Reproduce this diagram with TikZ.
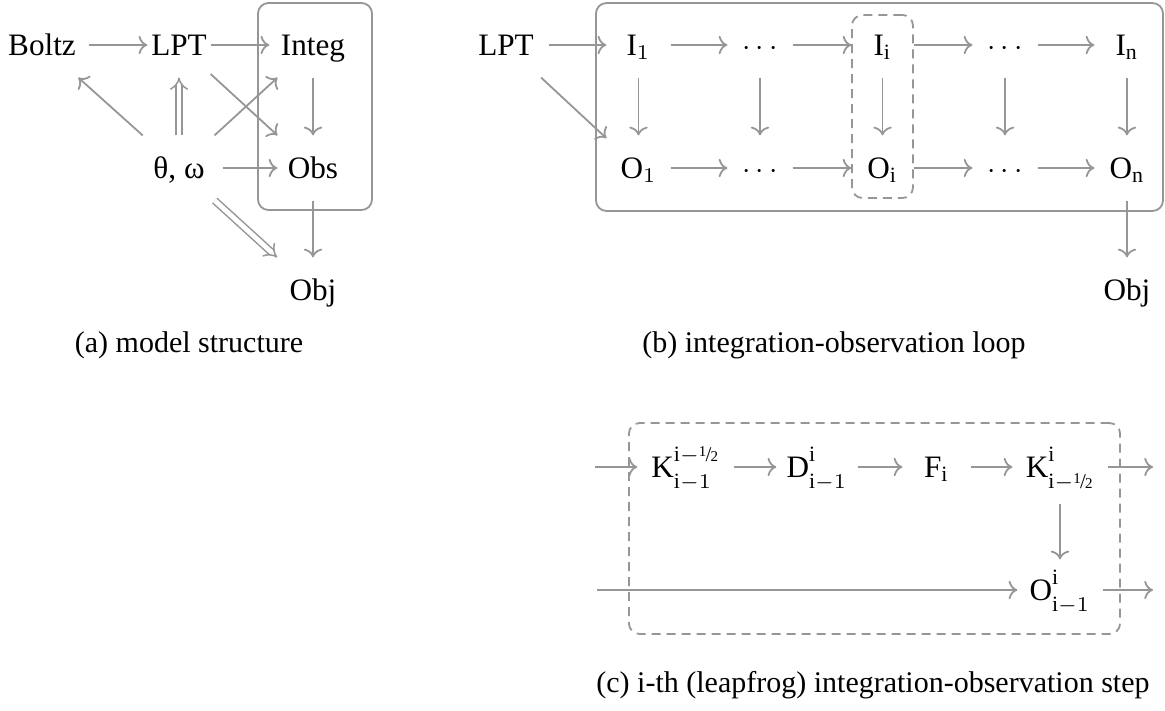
\documentclass[tikz,border=0pt]{standalone}
\usepackage{fontspec}
\setmainfont{Liberation Serif}
\usetikzlibrary{arrows.meta}
\definecolor{lg}{RGB}{150,150,150}
\newcommand{\hlf}{\hbox{\fontsize{5}{5}\selectfont\raisebox{0.75ex}{1}\kern-0.05em{\fontsize{7}{7}\selectfont/}\kern-0.05em 2}}
\newcommand{\supsub}[2]{^{\raisebox{1.6pt}{$\scriptstyle #1$}}_{\raisebox{-1.4pt}{$\scriptstyle #2$}}}
\begin{document}
\begin{tikzpicture}[x=0.33333pt,y=-0.33333pt,
  cell/.style={inner sep=0pt, minimum height=21.33pt, text height=6.9pt, text depth=0pt, font=\fontsize{10.4}{12}\selectfont},
  ar/.style={draw=lg, line width=0.6pt, -{Computer Modern Rightarrow}},
  dar/.style={draw=lg, line width=0.5pt, double, double distance=1.6pt, -{Implies}},
  solidbox/.style={draw=lg, line width=0.6pt, rounded corners=3.5pt, inner sep=0pt},
  dashbox/.style={draw=lg, line width=0.6pt, rounded corners=3.5pt, inner sep=0pt, dash pattern=on 3pt off 2pt},
  captext/.style={font=\fontsize{10}{12}\selectfont, anchor=base, inner sep=0pt}]
\useasboundingbox (0,0) rectangle (1165,711);

% ---------- (a) model structure ----------
\node[solidbox, minimum width=38pt, minimum height=69pt] (boxa) at (315,106.5) {};
\node[cell, minimum width=30.7pt] (boltz) at (42,45) {Boltz};
\node[cell, minimum width=20.7pt] (lpta) at (179,45) {LPT};
\node[cell, minimum width=28.7pt] (integ) at (313,45) {Integ};
\node[cell, minimum width=28.7pt] (param) at (179,168) {θ, ω};
\node[cell, minimum width=23.3pt] (obs) at (313,168) {Obs};
\node[cell, minimum width=24pt] (obja) at (313,290) {Obj};

\draw[ar] (boltz) -- (lpta);
\draw[ar] (lpta) -- (integ);
\draw[ar] (param) -- (obs);
\draw[ar] (param) -- (boltz);
\draw[ar] (param) -- (integ);
\draw[ar] (lpta) -- (obs);
\draw[ar] (integ) -- (obs);
\draw[ar] (obs) -- (obja);
\draw[dar] (param) -- (lpta);
\draw[dar] (param) -- (obja);

\node[captext] (capa) at (189,353) {(a) model structure};

% ---------- (b) integration-observation loop ----------
\node[solidbox, minimum width=189pt, minimum height=69.3pt] (boxb) at (879.5,107) {};
\node[dashbox, minimum width=20.3pt, minimum height=61pt] (boxi) at (882.5,106.5) {};
\node[cell, minimum width=28pt] (lptb) at (506,45) {LPT};
\node[cell, minimum width=21pt] (i1) at (638.5,45) {$\mathrm{I}_1$};
\node[cell, minimum width=21.3pt] (ia) at (760,45) {$\cdots$};
\node[cell, minimum width=20.3pt] (ii) at (882.5,45) {$\mathrm{I}_\mathrm{i}$};
\node[cell, minimum width=21.3pt] (ib) at (1005,45) {$\cdots$};
\node[cell, minimum width=21.3pt] (in) at (1127,45) {$\mathrm{I}_\mathrm{n}$};
\node[cell, minimum width=21pt] (o1) at (638.5,168) {$\mathrm{O}_1$};
\node[cell, minimum width=21.3pt] (oa) at (760,168) {$\cdots$};
\node[cell, minimum width=20.3pt] (oi) at (882.5,168) {$\mathrm{O}_\mathrm{i}$};
\node[cell, minimum width=21.3pt] (ob) at (1005,168) {$\cdots$};
\node[cell, minimum width=21.3pt] (on) at (1127,168) {$\mathrm{O}_\mathrm{n}$};
\node[cell, minimum width=24pt] (objb) at (1127,290) {Obj};

\draw[ar] (lptb) -- (i1);
\draw[ar] (lptb) -- (o1);
\draw[ar] (i1) -- (ia);
\draw[ar] (ia) -- (ii);
\draw[ar] (ii) -- (ib);
\draw[ar] (ib) -- (in);
\draw[ar] (o1) -- (oa);
\draw[ar] (oa) -- (oi);
\draw[ar] (oi) -- (ob);
\draw[ar] (ob) -- (on);
\draw[ar] (i1) -- (o1);
\draw[ar] (ia) -- (oa);
\draw[ar] (ii) -- (oi);
\draw[ar] (ib) -- (ob);
\draw[ar] (in) -- (on);
\draw[ar] (on) -- (objb);

\node[captext] (capb) at (834,353) {(b) integration-observation loop};

% ---------- (c) i-th step ----------
\node[dashbox, minimum width=163.7pt, minimum height=70.3pt] (boxc) at (874.5,528.5) {};
\coordinate (inK) at (595,467);
\coordinate (inO) at (597,590);
\coordinate (outK) at (1153,467);
\coordinate (outO) at (1153,590);
\node[cell, minimum width=31.7pt] (ka) at (685.5,467) {$\mathrm{K}\supsub{\mathrm{i}-\hlf}{\mathrm{i}-1}$};
\node[cell, minimum width=26.7pt] (da) at (817,467) {$\mathrm{D}\supsub{\mathrm{i}}{\mathrm{i}-1}$};
\node[cell, minimum width=22.3pt] (fa) at (936.5,467) {$\mathrm{F}_\mathrm{i}$};
\node[cell, minimum width=31.3pt, minimum height=24pt] (kb) at (1060,467) {$\mathrm{K}\supsub{\mathrm{i}}{\mathrm{i}-\hlf}$};
\node[cell, minimum width=28pt, minimum height=20pt] (oc) at (1060,590) {$\mathrm{O}\supsub{\mathrm{i}}{\mathrm{i}-1}$};

\draw[ar] (inK) -- (ka);
\draw[ar] (ka) -- (da);
\draw[ar] (da) -- (fa);
\draw[ar] (fa) -- (kb);
\draw[ar] (kb) -- (outK);
\draw[ar] (kb) -- (oc);
\draw[ar] (inO) -- (oc);
\draw[ar] (oc) -- (outO);

\node[captext] (capc) at (873,693) {(c) i-th (leapfrog) integration-observation step};
\end{tikzpicture}
\end{document}
